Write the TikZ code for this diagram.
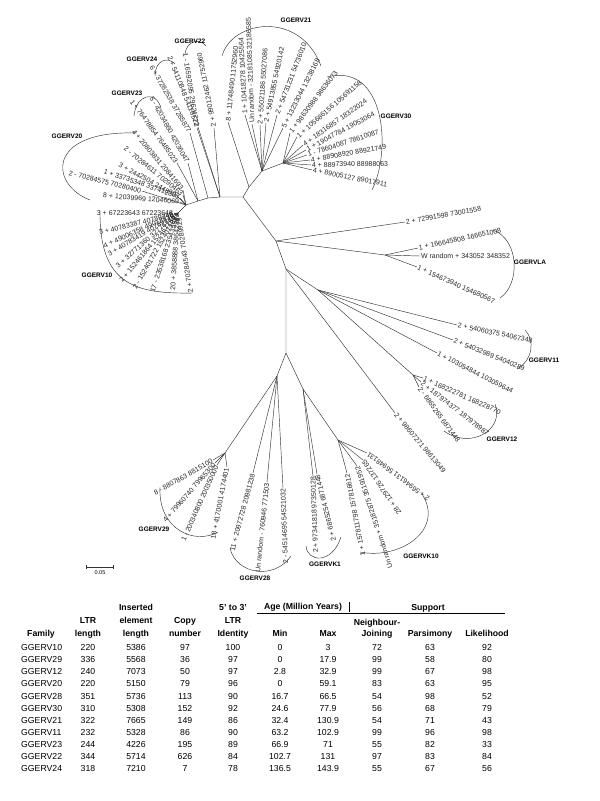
\documentclass[tikz,border=0pt]{standalone}
\usepackage{fontspec}
\setmainfont{Liberation Sans}
\usetikzlibrary{positioning,calc}
\tikzset{
  branch/.style={line width=0.45pt, draw=black!80},
  leaf/.style={font=\fontsize{7}{8}\selectfont, inner sep=0.8pt, text=black!85},
  clade/.style={font=\fontsize{6.5}{7}\selectfont\bfseries, inner sep=0pt},
  tabcell/.style={font=\fontsize{8.7}{10}\selectfont, inner sep=0pt, anchor=base},
  tabhead/.style={font=\fontsize{8.7}{10}\selectfont\bfseries, inner sep=0pt, anchor=base},
}

\begin{document}
\begin{tikzpicture}[x=1pt,y=1pt]
\useasboundingbox (0,0) rectangle (600,-801);

% inner nodes of the tree
\coordinate (c1) at (243,-197);
\coordinate (bb) at (262,-171);
\coordinate (e21) at (249,-187);
\coordinate (n30) at (283,-163);
\coordinate (d22) at (220,-197);
\coordinate (d24) at (208,-198);
\coordinate (d23) at (198,-201);
\coordinate (n20) at (186,-205);
\coordinate (n10) at (178,-213);
\coordinate (c2) at (276,-241);
\coordinate (c3) at (286,-269);
\coordinate (c4) at (286,-353);
\coordinate (c5) at (277,-376);
\coordinate (c6) at (303,-389);
\coordinate (c7) at (318,-290);
\coordinate (n12) at (413,-375);
\coordinate (nla) at (385,-255);
\coordinate (n29) at (225,-453);
\coordinate (nk10) at (338,-440);

\draw[branch] (n10) -- (n20) -- (d23) -- (d24) -- (d22) -- (c1) -- (e21) -- (bb) -- (n30);
\draw[branch] (c1) -- (c2) -- (c3) -- (c4) -- (c5) -- (n29);
\draw[branch] (c4) -- (c6) -- (nk10);
\draw[branch] (c2) -- (nla);
\draw[branch] (c3) -- (c7) -- (n12);

% GGERV10
\foreach \ang/\lab [count=\i] in {0/{3 + 67223643 67223648}, 14/{3 + 40783387 40789245},
  24/{4 + 49006358 49012230}, 31/{3 + 40783419 40789270}, 41/{3 + 32771360 32776745},
  50/{2 + 152461864 152467250}, 60/{2 - 152401722 152407108}, 72/{17 - 23538168 23543554},
  86/{20 + 3858888 3864274}, 99/{2 + 70284543 70289929}}{
  \path (n10) ++(\ang+180:4) coordinate (t10-\i);
  \draw[branch] (n10) -- (t10-\i);
  \node[leaf, rotate=\ang, anchor=east] (l10-\i) at (t10-\i) {\lab};
}

% GGERV20
\foreach \px/\py/\ang/\lab [count=\i] in {183/-190/-50/{4 + 20803831 20841693},
  183/-195/-39/{2 - 70284611 70290463}, 180/-198/-29/{3 + 2442504 2448998},
  177/-196/-19/{1 + 33735348 33741230}, 142/-191/-14/{2 - 70284575 70280400},
  180/-202/-5/{8 + 12039969 12046069}}{
  \coordinate (t20-\i) at (\px,\py);
  \draw[branch] (n20) -- (t20-\i);
  \node[leaf, rotate=\ang, anchor=east] (l20-\i) at (t20-\i) {\lab};
}

% GGERV23
\foreach \px/\py/\ang/\lab [count=\i] in {177/-163/-54/{1 + 76478854 76485023},
  188/-163/-61/{5 - 42034860 42036047}}{
  \coordinate (t23-\i) at (\px,\py);
  \draw[branch] (d23) -- (t23-\i);
  \node[leaf, rotate=\ang, anchor=east] (l23-\i) at (t23-\i) {\lab};
}

% GGERV24
\coordinate (t24-1) at (190,-133);
\coordinate (t24-2) at (198,-127);
\draw[branch] (d24) -- (t24-1);
\draw[branch] (d22) -- (t24-2);
\node[leaf, rotate=-60, anchor=east] (l24-1) at (t24-1) {6 + 37282538 37285877};
\node[leaf, rotate=-68, anchor=east] (l24-2) at (t24-2) {2 + 54110848 54116572};

% GGERV22
\coordinate (t22-1) at (197,-128);
\coordinate (t22-2) at (214,-128);
\draw[branch] (d22) -- (t22-1);
\draw[branch] (d22) -- (t22-2);
\node[leaf, rotate=-81, anchor=east] (l22-1) at (t22-1) {1 - 16592095 29624722};
\node[leaf, rotate=101, anchor=west] (l22-2) at (t22-2) {2 + 99012462 11752960};

% GGERV21
\coordinate (t21-0) at (228,-122);
\draw[branch] (e21) -- (t21-0);
\node[leaf, rotate=84, anchor=west] (l21-0) at (t21-0) {8 + 11748490 11752960};
\foreach \px/\py/\ang/\lab [count=\i] in {245/-115/93/{1 + 10418278 10425564},
  252/-124/92/{Un random - 32181085 32186585}, 260/-125/86/{2 + 55021186 55027086},
  266/-123/78/{2 + 54913855 54920142}, 277/-115/69/{2 + 54731231 54736010},
  283/-128/63/{5 + 13233044 13238168}}{
  \coordinate (t21-\i) at (\px,\py);
  \draw[branch] (bb) -- (t21-\i);
  \node[leaf, rotate=\ang, anchor=west] (l21-\i) at (t21-\i) {\lab};
}

% GGERV30
\foreach \px/\py/\ang/\lab [count=\i] in {290/-133/53/{1 + 98630988 98636073},
  297/-137/41/{1 + 105686156 105691158}, 303/-145/35/{4 + 18316857 18322024},
  306/-150/28/{1 + 19047784 19053064}, 307/-155/18/{1 - 78604087 78610087},
  310/-160/10/{4 + 88908920 88921749}, 311/-165/1/{4 + 88973940 88988063},
  312/-170/-11/{4 + 89005127 89017911}}{
  \coordinate (t30-\i) at (\px,\py);
  \draw[branch] (n30) -- (t30-\i);
  \node[leaf, rotate=\ang, anchor=west] (l30-\i) at (t30-\i) {\lab};
}

% single leaves
\coordinate (t72) at (405,-222);
\draw[branch] (c2) -- (t72);
\node[leaf, rotate=10, anchor=west] (l72) at (t72) {2 + 72991598 73001558};
\coordinate (t98) at (395,-413);
\draw[branch] (c3) -- (t98);
\node[leaf, rotate=-50, anchor=west] (l98) at (t98) {2 + 98607271 98613049};

% GGERVLA
\foreach \px/\py/\ang/\lab [count=\i] in {418/-248/12/{1 + 166645808 166651008},
  420/-256/0/{W random + 343052 348352}, 417/-267/-24/{1 + 154673940 154680567}}{
  \coordinate (tla-\i) at (\px,\py);
  \draw[branch] (nla) -- (tla-\i);
  \node[leaf, rotate=\ang, anchor=west] (lla-\i) at (tla-\i) {\lab};
}

% GGERV11
\foreach \px/\py/\ang/\lab [count=\i] in {457/-325/-12/{2 + 54060375 54067348},
  453/-340/-22/{2 + 54032989 54040289}, 437/-353/-27/{1 + 103054844 103059644}}{
  \coordinate (t11-\i) at (\px,\py);
  \draw[branch] (c7) -- (t11-\i);
  \node[leaf, rotate=\ang, anchor=west] (l11-\i) at (t11-\i) {\lab};
}

% GGERV12
\foreach \px/\py/\ang/\lab [count=\i] in {423/-378/-24/{1 + 168222781 168228770},
  421/-382/-38/{2 + 187974377 187978987}, 419/-387/-54/{2 - 6865265 6871448}}{
  \coordinate (t12-\i) at (\px,\py);
  \draw[branch] (n12) -- (t12-\i);
  \node[leaf, rotate=\ang, anchor=west] (l12-\i) at (t12-\i) {\lab};
}

% GGERVK10
\foreach \px/\py/\ang/\lab [count=\i] in {367/-453/143/{2 + 56946131 56948131},
  363/-460/124/{28 + 129726 137265}, 357/-466/108/{Un random + 35182875 35191952},
  347/-473/101/{1 + 157811798 157816612}}{
  \coordinate (tk10-\i) at (\px,\py);
  \draw[branch] (nk10) -- (tk10-\i);
  \node[leaf, rotate=\ang, anchor=east] (lk10-\i) at (tk10-\i) {\lab};
}

% GGERVK1
\coordinate (tk1-1) at (313,-476);
\coordinate (tk1-2) at (317,-474);
\draw[branch] (c6) -- (tk1-1);
\draw[branch] (c6) -- (tk1-2);
\node[leaf, rotate=92, anchor=east] (lk1-1) at (tk1-1) {2 + 97341818 97350128};
\node[leaf, rotate=104, anchor=east] (lk1-2) at (tk1-2) {2 + 6865254 6871448};

% GGERV29
\foreach \px/\py/\ang/\lab [count=\i] in {213/-460/30/{8 - 8807863 8815100},
  215/-463/49/{4 + 79960740 79965300}, 217/-465/66/{1 - 200340800 200350000},
  227/-467/79/{18 + 4170001 4174401}}{
  \coordinate (t29-\i) at (\px,\py);
  \draw[branch] (n29) -- (t29-\i);
  \node[leaf, rotate=\ang, anchor=east] (l29-\i) at (t29-\i) {\lab};
}

% GGERV28
\foreach \px/\py/\ang/\lab [count=\i] in {253/-473/75/{11 + 20972728 20981238},
  267/-482/84/{Un random - 760946 771503}, 283/-488/92/{2 - 54514695 54521032}}{
  \coordinate (t28-\i) at (\px,\py);
  \draw[branch] (c5) -- (t28-\i);
  \node[leaf, rotate=\ang, anchor=east] (l28-\i) at (t28-\i) {\lab};
}

% clade brackets
\draw[branch] (100,-210) .. controls (99,-285) and (135,-294) .. (193,-293);
\draw[branch] (90,-200) .. controls (50,-185) and (45,-130) .. (137,-133);
\draw[branch] (134,-116) .. controls (136,-94) and (156,-90) .. (161,-108);
\draw[branch] (155,-76) .. controls (155,-60) and (168,-56) .. (175,-64);
\draw[branch] (185,-55) .. controls (186,-40) and (200,-38) .. (206,-46);
\draw[branch] (222,-56) .. controls (232,-20) and (300,-10) .. (321,-66);
\draw[branch] (327,-77) .. controls (385,-62) and (392,-150) .. (372,-190);
\draw[branch] (493,-230) .. controls (520,-240) and (520,-285) .. (500,-298);
\draw[branch] (525,-330) .. controls (535,-340) and (533,-360) .. (517,-369);
\draw[branch] (495,-404) .. controls (505,-430) and (470,-450) .. (444,-431);
\draw[branch] (360,-552) .. controls (400,-560) and (445,-530) .. (422,-494);
\draw[branch] (306,-546) .. controls (307,-562) and (332,-565) .. (341,-537);
\draw[branch] (230,-548) .. controls (236,-575) and (275,-580) .. (291,-556);
\draw[branch] (160,-487) .. controls (158,-530) and (195,-545) .. (218,-532);

\node[clade] (g10) at (97,-275) {GGERV10};
\node[clade] (g20) at (67,-136) {GGERV20};
\node[clade] (g23) at (127,-93) {GGERV23};
\node[clade] (g24) at (142,-59) {GGERV24};
\node[clade] (g22) at (190,-41) {GGERV22};
\node[clade] (g21) at (296,-20) {GGERV21};
\node[clade] (g30) at (396,-116) {GGERV30};
\node[clade] (gla) at (530,-262) {GGERVLA};
\node[clade] (g11) at (544,-360) {GGERV11};
\node[clade] (g12) at (502,-439) {GGERV12};
\node[clade] (gk10) at (421,-556) {GGERVK10};
\node[clade] (gk1) at (325,-564) {GGERVK1};
\node[clade] (g28) at (255,-578) {GGERV28};
\node[clade] (g29) at (154,-529) {GGERV29};

% scale bar
\coordinate (sb1) at (86,-567);
\coordinate (sb2) at (113,-567);
\draw[branch] (sb1) -- (sb2);
\draw[branch] ($(sb1)+(0,2)$) -- ($(sb1)+(0,-2)$);
\draw[branch] ($(sb2)+(0,2)$) -- ($(sb2)+(0,-2)$);
\node[font=\fontsize{5.5}{6}\selectfont, inner sep=0pt] (sbl) at (100,-573) {0.05};

% table
\node[tabhead] at (41,-636.4) {Family};
\node[tabhead] at (88,-623.8) {LTR};
\node[tabhead] at (88,-636.4) {length};
\node[tabhead] at (136,-610.4) {Inserted};
\node[tabhead] at (136,-623.8) {element};
\node[tabhead] at (136,-636.4) {length};
\node[tabhead] at (185,-623.8) {Copy};
\node[tabhead] at (185,-636.4) {number};
\node[tabhead] at (233,-610.4) {5' to 3'};
\node[tabhead] at (233,-623.8) {LTR};
\node[tabhead] at (233,-636.4) {Identity};
\node[tabhead] at (303,-609.8) {Age (Million Years)};
\node[tabhead] at (428,-610.2) {Support};
\node[tabhead] at (280,-636.4) {Min};
\node[tabhead] at (328,-636.4) {Max};
\node[tabhead] at (377,-625.2) {Neighbour-};
\node[tabhead] at (377,-636.4) {Joining};
\node[tabhead] at (430,-636.4) {Parsimony};
\node[tabhead] at (487,-636.4) {Likelihood};
\draw[line width=0.9pt] (257,-613.5) -- (505,-613.5);
\draw[line width=0.9pt] (349,-602) -- (349,-612);

\foreach \fam/\va/\vb/\vc/\vd/\ve/\vf/\vg/\vh/\vk [count=\r] in {
  GGERV10/220/5386/97/100/0/3/72/63/92,
  GGERV29/336/5568/36/97/0/17.9/99/58/80,
  GGERV12/240/7073/50/97/2.8/32.9/99/67/98,
  GGERV20/220/5150/79/96/0/59.1/83/63/95,
  GGERV28/351/5736/113/90/16.7/66.5/54/98/52,
  GGERV30/310/5308/152/92/24.6/77.9/56/68/79,
  GGERV21/322/7665/149/86/32.4/130.9/54/71/43,
  GGERV11/232/5328/86/90/63.2/102.9/99/96/98,
  GGERV23/244/4226/195/89/66.9/71/55/82/33,
  GGERV22/344/5714/626/84/102.7/131/97/83/84,
  GGERV24/318/7210/7/78/136.5/143.9/55/67/56}{
  \pgfmathsetmacro\ry{-650.8-12.05*(\r-1)}
  \node[tabcell, anchor=base west] at (21,\ry) {\fam};
  \node[tabcell] at (88,\ry) {\va};
  \node[tabcell] at (136,\ry) {\vb};
  \node[tabcell] at (185,\ry) {\vc};
  \node[tabcell] at (233,\ry) {\vd};
  \node[tabcell] at (280,\ry) {\ve};
  \node[tabcell] at (328,\ry) {\vf};
  \node[tabcell] at (377,\ry) {\vg};
  \node[tabcell] at (430,\ry) {\vh};
  \node[tabcell] at (487,\ry) {\vk};
}
\end{tikzpicture}
\end{document}
